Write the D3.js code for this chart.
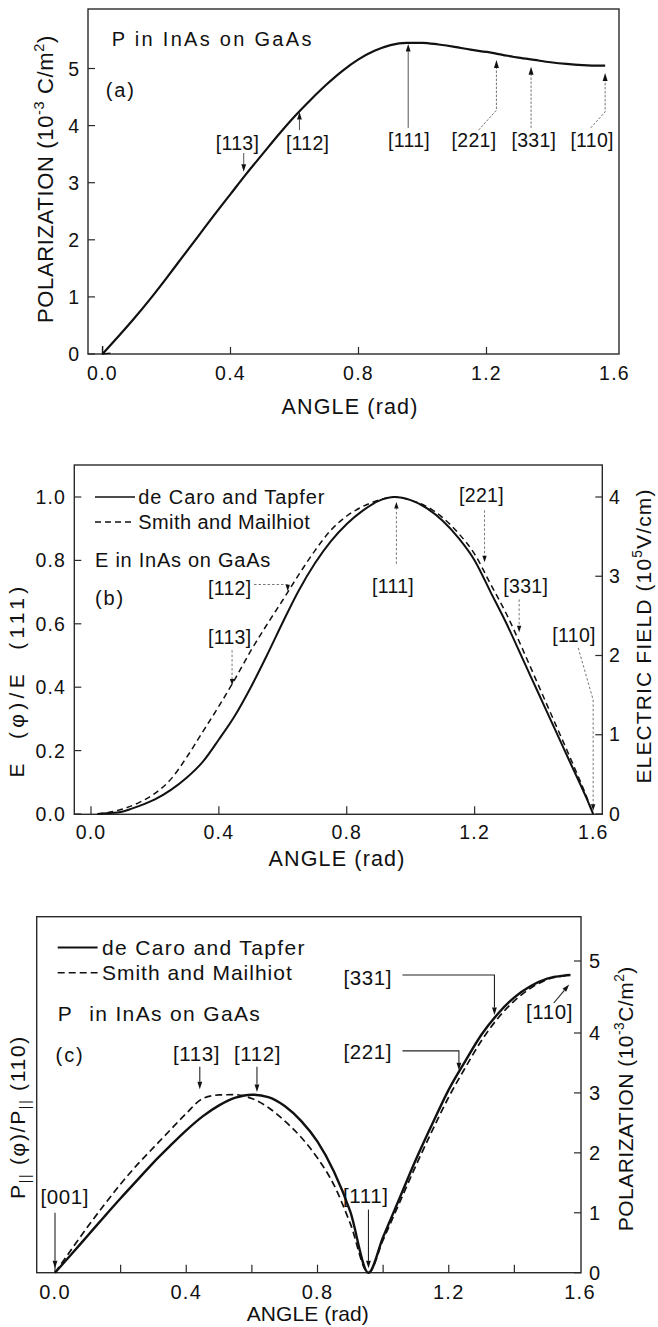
<!DOCTYPE html>
<html>
<head>
<meta charset="utf-8">
<script src="https://cdn.jsdelivr.net/npm/d3@7"></script>
<style>
  html, body { margin: 0; padding: 0; background: #fff; }
  svg { display: block; font-family: "Liberation Sans", Arial, Helvetica, sans-serif; }
</style>
</head>
<body>
<svg id="fig" width="658" height="1327"></svg>
<script>
// ---------------- data ----------------
const directionNames  = ["[001]", "[113]", "[112]", "[111]", "[221]", "[331]", "[110]"];
const directionAngles = [0, 0.4413, 0.6155, 0.9553, 1.2310, 1.3393, 1.5708];

const angleTickLabels = ["0.0", "0.4", "0.8", "1.2", "1.6"];
const angleTickValues = [0, 0.4, 0.8, 1.2, 1.6];
const angleMinorTicks = [0, 0.2, 0.4, 0.6, 0.8, 1.0, 1.2, 1.4];

// (a) polarization, 10^-3 C/m^2
const anglesA = [0, 0.05, 0.10, 0.15, 0.20, 0.25, 0.30, 0.35, 0.40, 0.45, 0.50, 0.55, 0.60, 0.65, 0.70, 0.75,
                 0.80, 0.85, 0.90, 0.95, 1.00, 1.05, 1.10, 1.15, 1.20, 1.25, 1.30, 1.35, 1.40, 1.45, 1.50, 1.55, 1.5708];
const polA    = [0, 0.31, 0.63, 0.97, 1.33, 1.70, 2.07, 2.44, 2.80, 3.16, 3.50, 3.84, 4.16, 4.45, 4.72, 4.96,
                 5.16, 5.31, 5.41, 5.45, 5.45, 5.42, 5.38, 5.33, 5.29, 5.24, 5.19, 5.15, 5.11, 5.08, 5.06, 5.05, 5.05];
const polTicksA = [0, 1, 2, 3, 4, 5];

// (b) normalized field E(phi)/E(111)
const anglesB = [0.02, 0.05, 0.10, 0.15, 0.20, 0.25, 0.30, 0.35, 0.40, 0.45, 0.50, 0.55, 0.60, 0.65, 0.70, 0.75,
                 0.80, 0.85, 0.90, 0.95, 1.00, 1.05, 1.10, 1.15, 1.20, 1.25, 1.30, 1.35, 1.40, 1.45, 1.50, 1.55, 1.5708];
const fieldDeCaro = [0, 0.002, 0.008, 0.025, 0.046, 0.076, 0.115, 0.165, 0.235, 0.31, 0.40, 0.50, 0.605, 0.705, 0.79, 0.86,
                     0.915, 0.957, 0.988, 1.0, 0.99, 0.965, 0.925, 0.87, 0.80, 0.70, 0.60, 0.49, 0.38, 0.27, 0.16, 0.05, 0];
const fieldSmith  = [0, 0.004, 0.016, 0.036, 0.065, 0.11, 0.18, 0.26, 0.34, 0.425, 0.515, 0.597, 0.675, 0.755, 0.83, 0.895,
                     0.94, 0.97, 0.99, 1.0, 0.99, 0.97, 0.935, 0.885, 0.82, 0.725, 0.63, 0.52, 0.405, 0.29, 0.175, 0.055, 0];
const ratioTicksB = [0, 0.2, 0.4, 0.6, 0.8, 1.0];
const ratioLabelsB = ["0.0", "0.2", "0.4", "0.6", "0.8", "1.0"];
const fieldTicksB = [0, 1, 2, 3, 4];

// (c) normalized in-plane polarization P||(phi)/P||(110)
const anglesC = [0, 0.05, 0.10, 0.15, 0.20, 0.25, 0.30, 0.35, 0.40, 0.45, 0.50, 0.55, 0.60, 0.65, 0.70, 0.75,
                 0.80, 0.85, 0.90, 0.9553, 1.00, 1.05, 1.10, 1.15, 1.20, 1.25, 1.30, 1.35, 1.40, 1.45, 1.50, 1.55, 1.5708];
const parDeCaro = [0, 0.062, 0.125, 0.188, 0.25, 0.31, 0.37, 0.425, 0.478, 0.525, 0.562, 0.588, 0.598, 0.59, 0.56, 0.51,
                   0.44, 0.34, 0.205, 0, 0.12, 0.25, 0.38, 0.50, 0.615, 0.71, 0.80, 0.87, 0.925, 0.963, 0.988, 0.998, 1.0];
const parSmith  = [0, 0.078, 0.155, 0.228, 0.298, 0.362, 0.42, 0.478, 0.535, 0.585, 0.597, 0.598, 0.585, 0.555, 0.51, 0.455,
                   0.385, 0.295, 0.165, 0, 0.11, 0.235, 0.36, 0.478, 0.59, 0.688, 0.78, 0.855, 0.913, 0.956, 0.985, 0.997, 1.0];
const polTicksC = [0, 1, 2, 3, 4, 5];

const legendNames = ["de Caro and Tapfer", "Smith and Mailhiot"];

// ---------------- helpers ----------------
const svg = d3.select("#fig");
const INK = "#111";
const dirAngle = name => directionAngles[directionNames.indexOf(name)];

function fit(sel, target) {
  const node = sel.node();
  const n = node.textContent.length;
  const w = node.getComputedTextLength();
  sel.attr("letter-spacing", ((target - w) / n).toFixed(2));
  return sel;
}

function text(g, x, y, str, fs, opt = {}) {
  const t = g.append("text").attr("x", x).attr("y", y).attr("font-size", fs).attr("fill", INK)
    .attr("text-anchor", opt.anchor || "start").style("white-space", "pre").text(str);
  if (opt.baseline) t.attr("dominant-baseline", opt.baseline);
  if (opt.ls != null) t.attr("letter-spacing", opt.ls);
  if (opt.len) fit(t, opt.len);
  return t;
}

// rotated axis title made of plain / superscript / subscript runs
function rich(g, cx, cy, parts, fs, len) {
  const t = g.append("text")
    .attr("transform", `translate(${cx + 0.36 * fs},${cy}) rotate(-90)`)
    .attr("text-anchor", "middle").attr("font-size", fs).attr("fill", INK)
    .style("white-space", "pre");
  let shift = 0;
  parts.forEach(p => {
    const ts = t.append("tspan").text(p.t);
    let target = 0;
    if (p.sup) { ts.attr("font-size", fs * 0.66); target = -fs * 0.42; }
    if (p.sub) { ts.attr("font-size", fs * 0.66); target = fs * 0.22; }
    if (target !== shift) { ts.attr("dy", target - shift); shift = target; }
  });
  if (len) fit(t, len);
  return t;
}

function arrow(g, pts, o) {
  const n = pts.length;
  const [x1, y1] = pts[n - 2], [x2, y2] = pts[n - 1];
  const a = Math.atan2(y2 - y1, x2 - x1);
  const bx = x2 - o.head * Math.cos(a), by = y2 - o.head * Math.sin(a);
  g.append("path")
    .attr("d", d3.line()(pts.slice(0, n - 1).concat([[bx, by]])))
    .attr("fill", "none").attr("stroke", o.stroke).attr("stroke-width", o.width)
    .attr("stroke-dasharray", o.dash || null);
  const px = -Math.sin(a), py = Math.cos(a);
  g.append("path")
    .attr("d", d3.line()([[x2, y2], [bx + px * o.hw, by + py * o.hw], [bx - px * o.hw, by - py * o.hw]]) + "Z")
    .attr("fill", INK);
}

function frame(g, f) {
  g.append("rect").attr("x", f.l).attr("y", f.t).attr("width", f.r - f.l).attr("height", f.b - f.t)
    .attr("fill", "none").attr("stroke", "#2a2a2a").attr("stroke-width", 1.4);
}

function ticksX(g, x, f, values, len = 7) {
  g.selectAll(null).data(values).join("line")
    .attr("x1", d => x(d)).attr("x2", d => x(d)).attr("y1", f.b).attr("y2", f.b - len)
    .attr("stroke", "#2a2a2a").attr("stroke-width", 1.2);
}
function ticksY(g, y, xEdge, dir, values, len = 7) {
  g.selectAll(null).data(values).join("line")
    .attr("x1", xEdge).attr("x2", xEdge + dir * len).attr("y1", d => y(d)).attr("y2", d => y(d))
    .attr("stroke", "#2a2a2a").attr("stroke-width", 1.2);
}

const curve = (x, y) => d3.line().x(d => x(d[0])).y(d => y(d[1])).curve(d3.curveMonotoneX);
const zip = (a, b) => a.map((v, i) => [v, b[i]]);

// ======================= (a) =======================
{
  const g = svg.append("g");
  const f = { l: 88, r: 619, t: 9, b: 354 };
  const x = d3.scaleLinear().domain([0, 1.6]).range([102.5, 614.5]);
  const y = d3.scaleLinear().domain([0, 5]).range([354, 68.5]);

  frame(g, f);
  ticksX(g, x, f, angleTickValues.slice(0, 4));
  ticksY(g, y, f.l, 1, polTicksA);

  g.selectAll(null).data(polTicksA).join("text")
    .attr("x", 79).attr("y", d => y(d) + 7).attr("text-anchor", "end")
    .attr("font-size", 19.5).attr("fill", INK).text(d => d);
  g.selectAll(null).data(angleTickValues).join("text")
    .attr("x", d => x(d)).attr("y", 379.5).attr("text-anchor", "middle")
    .attr("font-size", 19.5).attr("letter-spacing", 1.3).attr("fill", INK)
    .text((d, i) => angleTickLabels[i]);

  g.append("path").datum(zip(anglesA, polA)).attr("d", curve(x, y))
    .attr("fill", "none").attr("stroke", INK).attr("stroke-width", 2.2);

  // open arrowhead at the [001] end of the curve
  {
    const x0 = x(anglesA[0]), y0 = y(polA[0]);
    const dir = Math.atan2(y(polA[1]) - y0, x(anglesA[1]) - x0);
    const arm = s => [x0 + 8 * Math.cos(dir + s), y0 + 8 * Math.sin(dir + s)];
    g.append("path").attr("d", d3.line()([arm(0.72), [x0, y0], arm(-0.72)]))
      .attr("fill", "none").attr("stroke", INK).attr("stroke-width", 1.3);
  }

  const callouts = [
    { dir: "[113]", lx: 0.422, ly: 3.70, path: [[null, 3.52], [null, 3.19]], solid: true },
    { dir: "[112]", lx: 0.641, ly: 3.70, path: [[null, 3.92], [null, 4.24]], solid: true },
    { dir: "[111]", lx: 0.958, ly: 3.75, path: [[null, 3.96], [null, 5.43]], solid: true },
    { dir: "[221]", lx: 1.161, ly: 3.75, path: [[1.175, 3.92], [null, 4.27], [null, 5.15]] },
    { dir: "[331]", lx: 1.348, ly: 3.75, path: [[null, 3.96], [null, 5.03]] },
    { dir: "[110]", lx: 1.530, ly: 3.75, path: [[1.5256, 3.96], [null, 4.24], [null, 4.92]] }
  ];
  callouts.forEach(c => {
    const a = dirAngle(c.dir);
    text(g, x(c.lx), y(c.ly), c.dir, 19.5, { anchor: "middle", baseline: "central", ls: 0.3 });
    arrow(g, c.path.map(p => [x(p[0] == null ? a : p[0]), y(p[1])]),
      c.solid ? { stroke: "#555", width: 1, head: 7.5, hw: 2.4 }
              : { stroke: "#777", width: 1, dash: "2.5,1.5", head: 8, hw: 2.5 });
  });

  text(g, 111.7, 46, "P in InAs on GaAs", 20, { len: 202 });
  text(g, 105.7, 97, "(a)", 20, { len: 30 });

  rich(g, 45, 179, [{ t: "POLARIZATION (10" }, { t: "-3", sup: true }, { t: " C/m" }, { t: "2", sup: true }, { t: ")" }], 22, 288);
  text(g, 350, 413.5, "ANGLE (rad)", 21.5, { anchor: "middle", len: 137 });
}

// ======================= (b) =======================
{
  const g = svg.append("g");
  const f = { l: 74.3, r: 602.3, t: 465, b: 814.3 };
  const x = d3.scaleLinear().domain([0, 1.6]).range([91, 602.5]);
  const y = d3.scaleLinear().domain([0, 1]).range([814, 497]);
  const yR = d3.scaleLinear().domain([0, 4]).range([814, 497]);

  frame(g, f);
  ticksX(g, x, f, angleTickValues.slice(0, 4), 8);
  ticksY(g, y, f.l, 1, ratioTicksB);
  ticksY(g, yR, f.r, -1, fieldTicksB);

  g.selectAll(null).data(ratioTicksB).join("text")
    .attr("x", 66).attr("y", d => y(d) + 7).attr("text-anchor", "end")
    .attr("font-size", 19.5).attr("letter-spacing", 1.1).attr("fill", INK).text((d, i) => ratioLabelsB[i]);
  g.selectAll(null).data(fieldTicksB).join("text")
    .attr("x", 609).attr("y", d => yR(d) + 6.5)
    .attr("font-size", 19.5).attr("fill", INK).text(d => d);
  // the last angle label is kept clear of the right-axis zero
  g.selectAll(null).data(angleTickValues).join("text")
    .attr("x", d => Math.min(x(d), f.r - 9)).attr("y", 839).attr("text-anchor", "middle")
    .attr("font-size", 19.5).attr("letter-spacing", 1.2).attr("fill", INK)
    .text((d, i) => angleTickLabels[i]);

  g.append("path").datum(zip(anglesB, fieldSmith)).attr("d", curve(x, y))
    .attr("fill", "none").attr("stroke", INK).attr("stroke-width", 1.5).attr("stroke-dasharray", "6,4");
  g.append("path").datum(zip(anglesB, fieldDeCaro)).attr("d", curve(x, y))
    .attr("fill", "none").attr("stroke", INK).attr("stroke-width", 2);

  const callouts = [
    { dir: "[113]", lx: 0.434, ly: 0.559, path: [[null, 0.517], [null, 0.405]] },
    { dir: "[112]", lx: 0.434, ly: 0.713, path: [[0.51, 0.724], [null, 0.724], [null, 0.703]] },
    { dir: "[111]", lx: 0.945, ly: 0.719, path: [[null, 0.789], [null, 0.984]] },
    { dir: "[221]", lx: 1.2215, ly: 1.006, path: [[null, 0.958], [null, 0.794]] },
    { dir: "[331]", lx: 1.36, ly: 0.719, path: [[null, 0.677], [null, 0.573]] },
    { dir: "[110]", lx: 1.511, ly: 0.566, path: [[1.524, 0.524], [null, 0.36], [null, 0.01]] }
  ];
  callouts.forEach(c => {
    const a = dirAngle(c.dir);
    text(g, x(c.lx), y(c.ly), c.dir, 19.5, { anchor: "middle", baseline: "central", ls: 0.3 });
    arrow(g, c.path.map(p => [x(p[0] == null ? a : p[0]), y(p[1])]),
      { stroke: "#777", width: 1, dash: "2.5,2", head: 6.5, hw: 2.2 });
  });

  // legend
  g.append("line").attr("x1", 95).attr("x2", 135).attr("y1", 497).attr("y2", 497)
    .attr("stroke", INK).attr("stroke-width", 1.6);
  g.append("line").attr("x1", 95).attr("x2", 135).attr("y1", 522).attr("y2", 522)
    .attr("stroke", INK).attr("stroke-width", 1.4).attr("stroke-dasharray", "6,4");
  text(g, 138.3, 504, legendNames[0], 20, { len: 187 });
  text(g, 138.3, 529, legendNames[1], 20, { len: 172 });
  text(g, 95, 567, "E in InAs on GaAs", 20, { len: 176 });
  text(g, 95, 605, "(b)", 20, { len: 30 });

  rich(g, 16.2, 680, [{ t: "E  (φ)/E  (111)" }], 21, 195);
  rich(g, 643.6, 636, [{ t: "ELECTRIC FIELD (10" }, { t: "5", sup: true }, { t: "V/cm)" }], 21, 295);
  text(g, 337, 865.5, "ANGLE (rad)", 21.5, { anchor: "middle", len: 137 });
}

// ======================= (c) =======================
{
  const g = svg.append("g");
  const f = { l: 36.7, r: 581, t: 916.7, b: 1272.7 };
  const x = d3.scaleLinear().domain([0, 1.6]).range([55, 580]);
  const y = d3.scaleLinear().domain([0, 1]).range([1272.7, 975]);
  const yR = d3.scaleLinear().domain([0, 4, 5]).range([1272.7, 1033, 961]);

  frame(g, f);
  ticksX(g, x, f, angleMinorTicks, 8);
  ticksY(g, yR, f.r, -1, polTicksC);

  g.selectAll(null).data(polTicksC).join("text")
    .attr("x", 589).attr("y", d => yR(d) + 7)
    .attr("font-size", 20).attr("fill", INK).text(d => d);
  g.selectAll(null).data(angleTickValues).join("text")
    .attr("x", d => x(d)).attr("y", 1299).attr("text-anchor", "middle")
    .attr("font-size", 20).attr("letter-spacing", 1.2).attr("fill", INK)
    .text((d, i) => angleTickLabels[i]);

  g.append("path").datum(zip(anglesC, parSmith)).attr("d", curve(x, y))
    .attr("fill", "none").attr("stroke", INK).attr("stroke-width", 1.7).attr("stroke-dasharray", "7,4");
  g.append("path").datum(zip(anglesC, parDeCaro)).attr("d", curve(x, y))
    .attr("fill", "none").attr("stroke", INK).attr("stroke-width", 2.4);

  const callouts = [
    { dir: "[001]", lx: 0.03, ly: 0.257, path: [[null, 0.201], [null, 0.015]] },
    { dir: "[113]", lx: 0.431, ly: 0.737, path: [[null, 0.692], [null, 0.616]] },
    { dir: "[112]", lx: 0.617, ly: 0.737, path: [[null, 0.692], [null, 0.607]] },
    { dir: "[111]", lx: 0.947, ly: 0.258, path: [[null, 0.212], [null, 0.015]] },
    { dir: "[221]", lx: 0.953, ly: 0.742, path: [[1.059, 0.745], [null, 0.745], [null, 0.68]] },
    { dir: "[331]", lx: 0.953, ly: 0.99, path: [[1.059, 1.0], [null, 1.0], [null, 0.866]] },
    { dir: "[110]", lx: 1.507, ly: 0.878, path: [[1.52, 0.906], [1.567, 0.968]] }
  ];
  callouts.forEach(c => {
    const a = dirAngle(c.dir);
    text(g, x(c.lx), y(c.ly), c.dir, 20.5, { anchor: "middle", baseline: "central", ls: 0.6 });
    arrow(g, c.path.map(p => [x(p[0] == null ? a : p[0]), y(p[1])]),
      { stroke: "#222", width: 1.1, head: 7.5, hw: 2.4 });
  });

  // legend
  g.append("line").attr("x1", 57.7).attr("x2", 97.6).attr("y1", 947.6).attr("y2", 947.6)
    .attr("stroke", INK).attr("stroke-width", 2);
  g.append("line").attr("x1", 57.7).attr("x2", 97.6).attr("y1", 972.8).attr("y2", 972.8)
    .attr("stroke", INK).attr("stroke-width", 1.5).attr("stroke-dasharray", "7,4");
  text(g, 101.9, 955, legendNames[0], 21, { len: 204 });
  text(g, 101.9, 980.2, legendNames[1], 21, { len: 191 });
  text(g, 57.7, 1020.5, "P", 21);
  text(g, 89.2, 1020.5, "in InAs on GaAs", 21, { len: 172 });
  text(g, 55.6, 1062, "(c)", 20, { len: 29 });

  rich(g, 17.8, 1117, [{ t: "P" }, { t: "||", sub: true }, { t: " (φ)/P" }, { t: "||", sub: true }, { t: " (110)" }], 21, 164);
  rich(g, 625.2, 1098.7, [{ t: "POLARIZATION (10" }, { t: "-3", sup: true }, { t: "C/m" }, { t: "2", sup: true }, { t: ")" }], 21, 265);
  text(g, 307.8, 1321, "ANGLE (rad)", 21, { anchor: "middle", len: 122 });
}
</script>
</body>
</html>
